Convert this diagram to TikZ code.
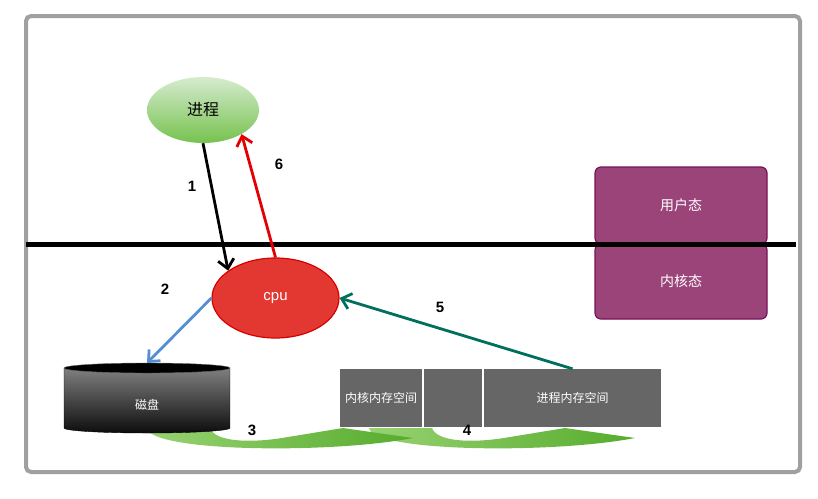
\documentclass[tikz,border=0pt]{standalone}
\usepackage{fontspec}
\setmainfont{Liberation Sans}
\newfontfamily\cjk{Noto Sans CJK SC}
\usetikzlibrary{arrows.meta,shapes.geometric}
\definecolor{framegray}{RGB}{160,160,160}
\definecolor{procgreenA}{RGB}{214,235,207}
\definecolor{procgreenB}{RGB}{118,194,78}
\definecolor{cpured}{RGB}{227,56,50}
\definecolor{cpuline}{RGB}{215,0,0}
\definecolor{statefill}{RGB}{155,68,122}
\definecolor{stateline}{RGB}{120,18,88}
\definecolor{memgray}{RGB}{102,102,102}
\definecolor{bluearr}{RGB}{85,142,213}
\definecolor{tealarr}{RGB}{0,112,92}
\definecolor{redarr}{RGB}{228,0,0}
\definecolor{lgreen}{RGB}{152,210,115}
\definecolor{dgreen}{RGB}{86,172,44}
\def\greenarrow(#1){\shade[left color=lgreen, right color=dgreen, shift={(#1,0)}] (147,428) .. controls (150,452) and (330,454) .. (413,438) -- (343,428) -- (282,438) .. controls (250,443) and (215,442) .. (210,428) -- cycle;}

\begin{document}
\begin{tikzpicture}[x=1pt,y=-1pt,
	arr/.style={line width=2.8pt,-{Straight Barb[length=9pt,width=16pt]}},
	num/.style={font=\fontsize{15}{15}\selectfont\bfseries},
	state/.style={draw=stateline,line width=1.2pt,fill=statefill,rounded corners=6pt,minimum width=172pt,text=white,font=\cjk\fontsize{14}{14}\selectfont},
	mem/.style={fill=memgray,minimum height=58pt,inner sep=0pt,text=white,font=\cjk\fontsize{12}{12}\selectfont}]
		%%%%% START %%%%%
		\useasboundingbox (0,0) rectangle (818,498);
		\draw[framegray,line width=4pt,rounded corners=5pt] (26,16) rectangle (800,472);
		
		\node[state,minimum height=77pt] (ustate) at (681,205.5) {用户态};
		\node[state,minimum height=75pt] (kstate) at (681,281.5) {内核态};
		\draw[line width=5pt] (26,244) -- (796,244);
		
		\node[ellipse,minimum width=112pt,minimum height=66pt,inner sep=0pt,top color=procgreenA,bottom color=procgreenB,font=\cjk\fontsize{16}{16}\selectfont] (proc) at (203,110) {进程};
		\node[ellipse,minimum width=127pt,minimum height=80pt,inner sep=0pt,fill=cpured,draw=cpuline,line width=1.2pt,text=white,font=\fontsize{15}{15}\selectfont] (cpu) at (275.5,298) {cpu};
		
		\greenarrow(222)
		\greenarrow(0)
		
		\shade[top color=black!50,bottom color=black!95,draw=black] (64,368) -- (64,428) arc[start angle=180,end angle=360,x radius=83pt,y radius=5pt] -- (230,368) -- cycle;
		\draw[fill=black,draw=black!60] (147,368) ellipse (83pt and 5pt);
		\node[text=white,font=\cjk\fontsize{12}{12}\selectfont] (disk) at (147,405) {磁盘};
		\coordinate (disktop) at (147,363);
		
		\node[mem,minimum width=82pt] (kmem) at (381,398) {内核内存空间};
		\node[mem,minimum width=58pt] (gap) at (453,398) {};
		\node[mem,minimum width=177pt] (umem) at (572.5,398) {进程内存空间};
		
		\draw[arr,black] (proc.south) -- (cpu.150);
		\draw[arr,redarr] (cpu.north) -- (proc.-32);
		\draw[arr,bluearr] (cpu.west) -- (disktop);
		\draw[arr,tealarr] (umem.north) -- (cpu.east);
		
		\node[num] (n1) at (192,186) {1};
		\node[num] (n2) at (165,289) {2};
		\node[num] (n3) at (252,430) {3};
		\node[num] (n4) at (467,430) {4};
		\node[num] (n5) at (440,307) {5};
		\node[num] (n6) at (279,164) {6};
		%%%%% END %%%%%
\end{tikzpicture}
\end{document}
